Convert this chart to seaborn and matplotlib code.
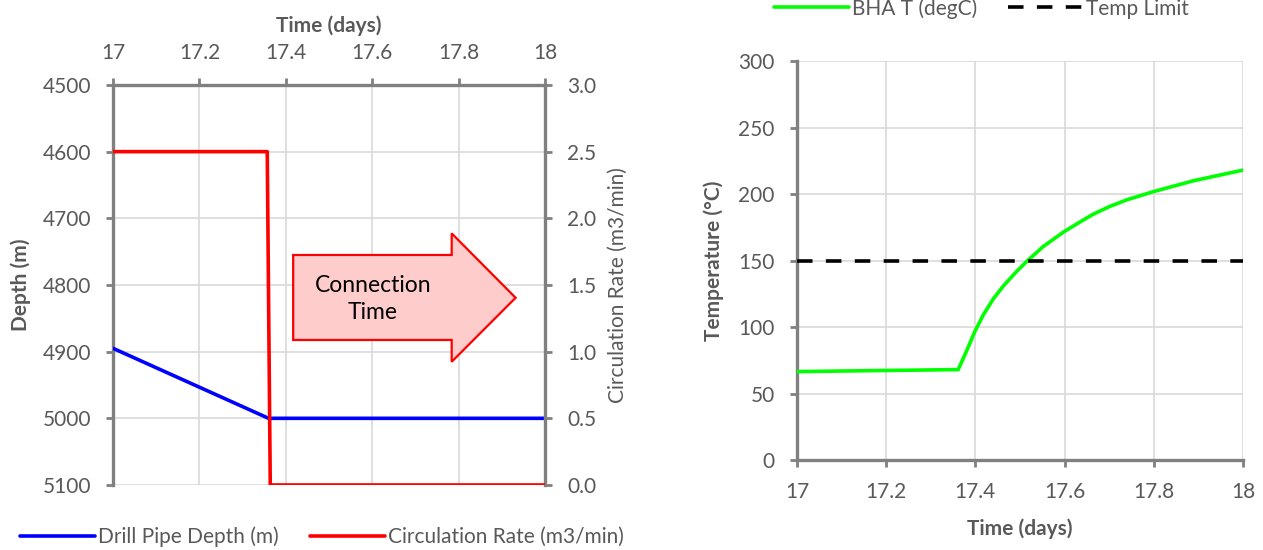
import matplotlib
matplotlib.use("Agg")
import matplotlib.pyplot as plt
import seaborn as sns
import pandas as pd
from matplotlib.patches import Polygon
from matplotlib.lines import Line2D
from matplotlib.ticker import FormatStrFormatter, FixedLocator

# ---- data ----
depth_time = [17.0, 17.36, 18.0]
depth_m = [4895, 5000, 5000]

rate_time = [17.0, 17.357, 17.364, 18.0]
rate_m3min = [2.5, 2.5, 0.0, 0.0]

bha_time = [17.0, 17.3615, 17.380, 17.399, 17.418, 17.440, 17.463, 17.493, 17.515,
            17.552, 17.599, 17.642, 17.664, 17.700, 17.739, 17.799, 17.889, 18.0]
bha_temp = [66.5, 68.0, 81.8, 96.8, 109.3, 121.1, 131.0, 142.0, 149.3,
            160.5, 171.8, 180.5, 184.8, 190.5, 195.6, 201.8, 210.0, 218.0]

limit_time = [17.0, 18.0]
limit_temp = [150, 150]

x_ticks = [17, 17.2, 17.4, 17.6, 17.8, 18]
x_ticklabels = ["17", "17.2", "17.4", "17.6", "17.8", "18"]
depth_ticks = [4500, 4600, 4700, 4800, 4900, 5000, 5100]
rate_ticks = [0.0, 0.5, 1.0, 1.5, 2.0, 2.5, 3.0]
temp_ticks = [0, 50, 100, 150, 200, 250, 300]

# ---- style ----
sns.set_theme(style="white")
plt.rcParams['font.family'] = ['Lato', 'DejaVu Sans']
TXT = "#595959"
SPINE = "#808080"
GRID = "#d9d9d9"
FS = 15
LW = 2.6
PAD = 11

fig = plt.figure(figsize=(12.63, 5.5), dpi=100)
ax = fig.add_axes([0.0895, 0.1182, 0.342, 0.7273])
ax2 = ax.twinx()
axr = fig.add_axes([0.631, 0.1636, 0.3532, 0.7254])

df_depth = pd.DataFrame({"t": depth_time, "d": depth_m})
df_rate = pd.DataFrame({"t": rate_time, "r": rate_m3min})
df_bha = pd.DataFrame({"t": bha_time, "T": bha_temp})
df_lim = pd.DataFrame({"t": limit_time, "T": limit_temp})

# ---- left chart ----
sns.lineplot(data=df_depth, x="t", y="d", ax=ax, color="#0000ff", lw=LW, sort=False, zorder=3)
sns.lineplot(data=df_rate, x="t", y="r", ax=ax2, color="#ff0000", lw=LW, sort=False, zorder=3)

ax.set_xlim(17, 18)
ax.set_ylim(5100, 4500)
ax2.set_ylim(0, 3.0)
ax.xaxis.set_major_locator(FixedLocator(x_ticks))
ax.set_xticklabels(x_ticklabels)
ax.set_yticks(depth_ticks)
ax2.set_yticks(rate_ticks)
ax2.yaxis.set_major_formatter(FormatStrFormatter("%.1f"))
ax.xaxis.tick_top()
ax.xaxis.set_label_position("top")
ax.grid(True, color=GRID, lw=1.2)
ax.set_axisbelow(True)

for s in ["bottom", "right"]:
    ax.spines[s].set_visible(False)
for s in ["left", "top"]:
    ax.spines[s].set_color(SPINE)
    ax.spines[s].set_linewidth(2.4)
for s in ["bottom", "left", "top"]:
    ax2.spines[s].set_visible(False)
ax2.spines["right"].set_color(SPINE)
ax2.spines["right"].set_linewidth(2.4)

ax.tick_params(axis="y", left=True, direction="out", length=5, width=2, color=SPINE,
               labelsize=FS, labelcolor=TXT, pad=PAD)
ax.tick_params(axis="x", top=True, bottom=False, direction="out", length=5, width=2,
               color=SPINE, labelsize=FS, labelcolor=TXT, pad=PAD)
ax2.tick_params(axis="y", right=True, direction="out", length=5, width=2, color=SPINE,
                labelsize=FS, labelcolor=TXT, pad=PAD)

ax.set_xlabel("Time (days)", fontsize=FS, fontweight="bold", color=TXT, labelpad=8)
ax.set_ylabel("Depth (m)", fontsize=FS, fontweight="bold", color=TXT, labelpad=8)
ax2.set_ylabel("Circulation Rate (m3/min)", fontsize=FS, color=TXT, labelpad=8)

# connection-time arrow (axes coordinates)
arrow = Polygon([(0.417, 0.575), (0.784, 0.575), (0.784, 0.629), (0.932, 0.468),
                 (0.784, 0.308), (0.784, 0.3625), (0.417, 0.3625)], closed=True,
                transform=ax.transAxes, facecolor="#ffcccc", edgecolor="#ff0000", lw=1.6, zorder=5)
ax.add_patch(arrow)
ax.text(0.602, 0.465, "Connection\nTime", transform=ax.transAxes, ha="center", va="center",
        fontsize=16.5, color="black", linespacing=1.3, zorder=6)

handles = [Line2D([], [], color="#0000ff", lw=LW), Line2D([], [], color="#ff0000", lw=LW)]
fig.legend(handles, ["Drill Pipe Depth (m)", "Circulation Rate (m3/min)"], loc="center",
           bbox_to_anchor=(0.255, 0.024), ncol=2, frameon=False, fontsize=FS,
           labelcolor=TXT, handlelength=3.6, handletextpad=0.15, columnspacing=1.5)

# ---- right chart ----
sns.lineplot(data=df_bha, x="t", y="T", ax=axr, color="#00ff00", lw=LW, sort=False, zorder=3)
sns.lineplot(data=df_lim, x="t", y="T", ax=axr, color="black", lw=LW, sort=False, zorder=3,
             linestyle=(0, (4.3, 3.7)))
axr.set_xlim(17, 18)
axr.set_ylim(0, 300)
axr.xaxis.set_major_locator(FixedLocator(x_ticks))
axr.set_xticklabels(x_ticklabels)
axr.set_yticks(temp_ticks)
axr.grid(True, color=GRID, lw=1.2)
axr.set_axisbelow(True)
for s in ["top", "right"]:
    axr.spines[s].set_visible(False)
for s in ["left", "bottom"]:
    axr.spines[s].set_color(SPINE)
    axr.spines[s].set_linewidth(2.4)
axr.tick_params(axis="both", left=True, bottom=True, direction="out", length=5, width=2,
                color=SPINE, labelsize=FS, labelcolor=TXT, pad=PAD)
axr.set_xlabel("Time (days)", fontsize=FS, fontweight="bold", color=TXT, labelpad=12)
axr.set_ylabel("Temperature (°C)", fontsize=FS, fontweight="bold", color=TXT, labelpad=10)

handles_r = [Line2D([], [], color="#00ff00", lw=LW),
             Line2D([], [], color="black", lw=LW, linestyle=(0, (4.3, 3.7)))]
fig.legend(handles_r, ["BHA T (degC)", "Temp Limit"], loc="center",
           bbox_to_anchor=(0.777, 0.985), ncol=2, frameon=False, fontsize=FS,
           labelcolor=TXT, handlelength=3.6, handletextpad=0.15, columnspacing=1.5)

fig.savefig("out.png", dpi=100)
